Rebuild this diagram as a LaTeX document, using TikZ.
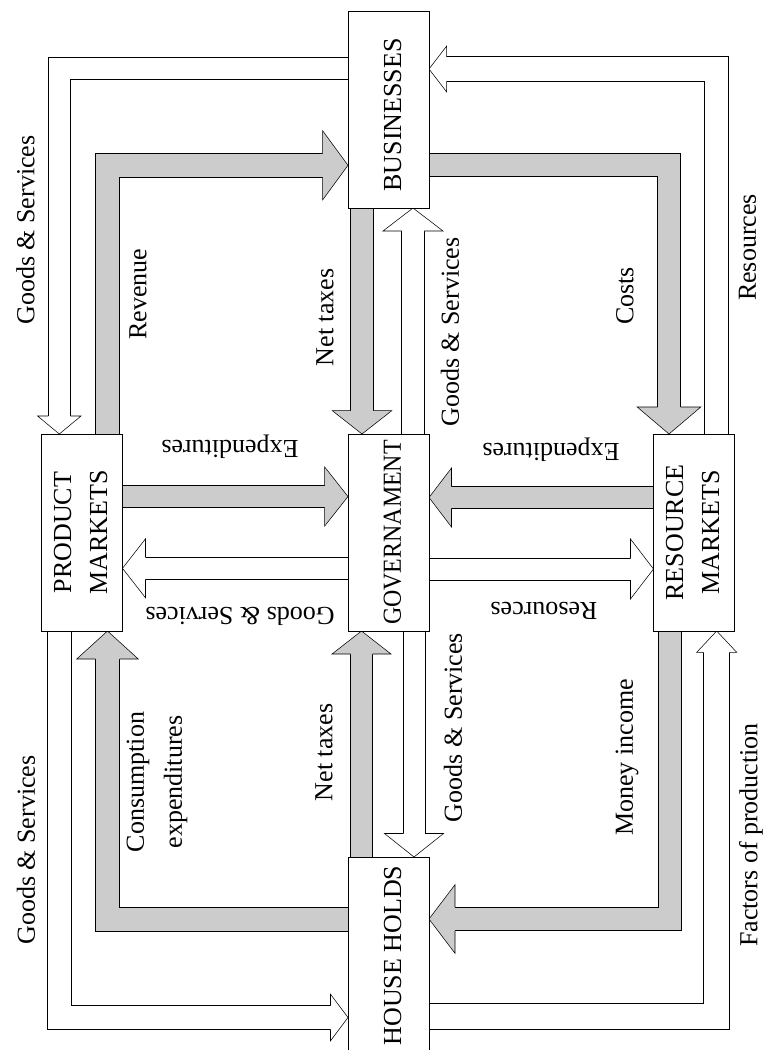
\documentclass[tikz,border=0pt]{standalone}
\usepackage{fontspec}
\setmainfont{Liberation Serif}
\usepackage{graphicx}
\usetikzlibrary{calc,backgrounds}

\definecolor{flowgray}{RGB}{204,204,204}

% arrow heads: #1 fill, #2 base centre, #3 tip, #4 shaft half width, #5 head half width
\newcommand\vhead[5]{%
  \fill[#1] ($(#2)+(-#5,0)$) -- (#3) -- ($(#2)+(#5,0)$) -- cycle;
  \draw ($(#2)+(-#4,0)$) -- ($(#2)+(-#5,0)$) -- (#3) -- ($(#2)+(#5,0)$) -- ($(#2)+(#4,0)$);}
\newcommand\hhead[5]{%
  \fill[#1] ($(#2)+(0,-#5)$) -- (#3) -- ($(#2)+(0,#5)$) -- cycle;
  \draw ($(#2)+(0,-#4)$) -- ($(#2)+(0,-#5)$) -- (#3) -- ($(#2)+(0,#5)$) -- ($(#2)+(0,#4)$);}

\tikzset{
  sector/.style={draw, fill=white, line width=0.75pt, inner sep=0pt, outer sep=0pt,
    minimum width=60.75pt, minimum height=147.75pt},
  lbl/.style={inner sep=0pt, rotate=90},
  flip/.style={inner sep=0pt, rotate=180},
  moneyflow/.style={draw=black, line width=0.75pt, double=flowgray, double distance=#1},
  goodsflow/.style={draw=black, line width=0.75pt, double=white, double distance=#1},
}

\begin{document}
\begin{tikzpicture}[x=0.75pt, y=-0.75pt, line width=0.75pt,
  font=\fontsize{19.5}{27}\selectfont]
\useasboundingbox (0,0) rectangle (763,1050);

% sectors
\node[sector] (bus) at (388.5,109.5) {\rotatebox{90}{BUSINESSES\hspace{8pt}\rule{0pt}{19pt}}};
\node[sector] (gov) at (388.5,532.5) {\rotatebox{90}{\scalebox{0.92}[1]{GOVERNAMENT}\rule{0pt}{19pt}}};
\node[sector] (pm)  at (82,532.5) {\rotatebox{90}{\begin{tabular}{@{}c@{}}PRODUCT\\MARKETS\end{tabular}}};
\node[sector] (rm)  at (694,532.5) {\rotatebox{90}{\begin{tabular}{@{}c@{}}RESOURCE\\MARKETS\end{tabular}}};
\node[sector] (hh)  at (388.5,955.5) {\rotatebox{90}{HOUSE HOLDS\rule{0pt}{19pt}}};

\begin{scope}[on background layer]
% ---- real flows (white) ----
% businesses -> product markets
\coordinate (a0) at ($(bus.west)+(0,-40.8)$);
\coordinate (a2) at ($(pm.north)+(-22.7,0)$);
\coordinate (a1) at ($(a2)+(0,-18)$);
\draw[goodsflow=15.75pt] (a0) -- (a0 -| a2) -- ($(a1)!1.5pt!(a2)$);
\vhead{white}{a1}{a2}{11}{21.7}
% resource markets -> businesses
\coordinate (b0) at ($(rm.north)+(22.7,0)$);
\coordinate (b2) at ($(bus.east)+(0,-40.5)$);
\coordinate (b1) at ($(b2)+(17.7,0)$);
\draw[goodsflow=17.625pt] (b0) -- (b0 |- b2) -- ($(b1)!1.5pt!(b2)$);
\hhead{white}{b1}{b2}{12.25}{23}
% government -> businesses
\coordinate (c0) at ($(gov.north)+(24.5,0)$);
\coordinate (c2) at ($(bus.south)+(24.5,0)$);
\coordinate (c1) at ($(c2)+(0,23)$);
\draw[goodsflow=16pt] (c0) -- ($(c1)!1.5pt!(c2)$);
\vhead{white}{c1}{c2}{11.15}{30}
% government -> product markets
\coordinate (d0) at ($(gov.west)+(0,35.8)$);
\coordinate (d2) at ($(pm.east)+(0,35.8)$);
\coordinate (d1) at ($(d2)+(23,0)$);
\draw[goodsflow=15.75pt] (d0) -- ($(d1)!1.5pt!(d2)$);
\hhead{white}{d1}{d2}{11}{29.5}
% government -> resource markets
\coordinate (e0) at ($(gov.east)+(0,36.5)$);
\coordinate (e2) at ($(rm.west)+(0,36.5)$);
\coordinate (e1) at ($(e2)+(-23,0)$);
\draw[goodsflow=15.75pt] (e0) -- ($(e1)!1.5pt!(e2)$);
\hhead{white}{e1}{e2}{11}{30}
% government -> households
\coordinate (f0) at ($(gov.south)+(25.5,0)$);
\coordinate (f2) at ($(hh.north)+(25.5,0)$);
\coordinate (f1) at ($(f2)+(0,-23.5)$);
\draw[goodsflow=15.75pt] (f0) -- ($(f1)!1.5pt!(f2)$);
\vhead{white}{f1}{f2}{11}{29.5}
% product markets -> households
\coordinate (g0) at ($(pm.south)+(-22.7,0)$);
\coordinate (g2) at ($(hh.west)+(0,62)$);
\coordinate (g1) at ($(g2)+(-17.5,0)$);
\draw[goodsflow=17.25pt] (g0) -- (g0 |- g2) -- ($(g1)!1.5pt!(g2)$);
\hhead{white}{g1}{g2}{12}{23.3}
% households -> resource markets
\coordinate (h0) at ($(hh.east)+(0,61.2)$);
\coordinate (h2) at ($(rm.south)+(22.7,0)$);
\coordinate (h1) at ($(h2)+(0,21.3)$);
\draw[goodsflow=19.125pt] (h0) -- (h0 -| h2) -- ($(h1)!1.5pt!(h2)$);
\vhead{white}{h1}{h2}{13.25}{20}

% ---- money flows (grey) ----
% product markets -> businesses
\coordinate (i0) at ($(pm.north)+(25,0)$);
\coordinate (i2) at ($(bus.west)+(0,55.8)$);
\coordinate (i1) at ($(i2)+(-25.3,0)$);
\draw[moneyflow=17.25pt] (i0) -- (i0 |- i2) -- ($(i1)!1.5pt!(i2)$);
\hhead{flowgray}{i1}{i2}{12}{34.5}
% businesses -> resource markets
\coordinate (j0) at ($(bus.east)+(0,55.2)$);
\coordinate (j2) at ($(rm.north)+(-25,0)$);
\coordinate (j1) at ($(j2)+(0,-27)$);
\draw[moneyflow=16.5pt] (j0) -- (j0 -| j2) -- ($(j1)!1.5pt!(j2)$);
\vhead{flowgray}{j1}{j2}{11.5}{31.8}
% businesses -> government
\coordinate (k0) at ($(bus.south)+(-26.5,0)$);
\coordinate (k2) at ($(gov.north)+(-26.5,0)$);
\coordinate (k1) at ($(k2)+(0,-23.3)$);
\draw[moneyflow=16pt] (k0) -- ($(k1)!1.5pt!(k2)$);
\vhead{flowgray}{k1}{k2}{11.15}{29.7}
% households -> government
\coordinate (l0) at ($(hh.north)+(-27,0)$);
\coordinate (l2) at ($(gov.south)+(-27,0)$);
\coordinate (l1) at ($(l2)+(0,23)$);
\draw[moneyflow=15.75pt] (l0) -- ($(l1)!1.5pt!(l2)$);
\vhead{flowgray}{l1}{l2}{11}{29.5}
% households -> product markets
\coordinate (m0) at ($(hh.west)+(0,-36.5)$);
\coordinate (m2) at ($(pm.south)+(25.5,0)$);
\coordinate (m1) at ($(m2)+(0,28)$);
\draw[moneyflow=17.25pt] (m0) -- (m0 -| m2) -- ($(m1)!1.5pt!(m2)$);
\vhead{flowgray}{m1}{m2}{12}{30.8}
% resource markets -> households
\coordinate (n0) at ($(rm.south)+(-24,0)$);
\coordinate (n2) at ($(hh.east)+(0,-36.5)$);
\coordinate (n1) at ($(n2)+(26,0)$);
\draw[moneyflow=16.875pt] (n0) -- (n0 |- n2) -- ($(n1)!1.5pt!(n2)$);
\hhead{flowgray}{n1}{n2}{11.75}{34.3}
% product markets -> government
\coordinate (o0) at ($(pm.east)+(0,-36)$);
\coordinate (o2) at ($(gov.west)+(0,-36)$);
\coordinate (o1) at ($(o2)+(-23.3,0)$);
\draw[moneyflow=15.375pt] (o0) -- ($(o1)!1.5pt!(o2)$);
\hhead{flowgray}{o1}{o2}{10.75}{29.5}
% resource markets -> government
\coordinate (p0) at ($(rm.west)+(0,-35)$);
\coordinate (p2) at ($(gov.east)+(0,-35)$);
\coordinate (p1) at ($(p2)+(22.5,0)$);
\draw[moneyflow=15.5pt] (p0) -- ($(p1)!1.5pt!(p2)$);
\hhead{flowgray}{p1}{p2}{10.85}{29.5}
\end{scope}

% flow labels
\node[lbl] (gsTL) at (25.5,230) {Goods \& Services};
\node[lbl] (rev)  at (138,294) {Revenue};
\node[lbl] (ntU)  at (325,317.5) {Net taxes};
\node[lbl] (gsUM) at (450,332) {Goods \& Services};
\node[lbl] (cost) at (625,296) {Costs};
\node[lbl] (resR) at (747.5,247.5) {Resources};
\node[lbl] (gsBL) at (26,850) {Goods \& Services};
\node[lbl, align=center, font=\fontsize{19.5}{28.5}\selectfont] (cons) at (157,782) {Consumption\\expenditures};
\node[lbl] (ntL)  at (324,752.5) {Net taxes};
\node[lbl] (gsLM) at (453,727.5) {Goods \& Services};
\node[lbl] (inc)  at (627,757.5) {Money income};
\node[lbl] (fac)  at (751,835) {Factors of production};
\node[flip] (expL) at (230,447) {Expenditures};
\node[flip] (gsML) at (240,616) {Goods \& Services};
\node[flip] (expR) at (551,450) {Expenditures};
\node[flip] (resM) at (544,611) {Resources};
\end{tikzpicture}
\end{document}
